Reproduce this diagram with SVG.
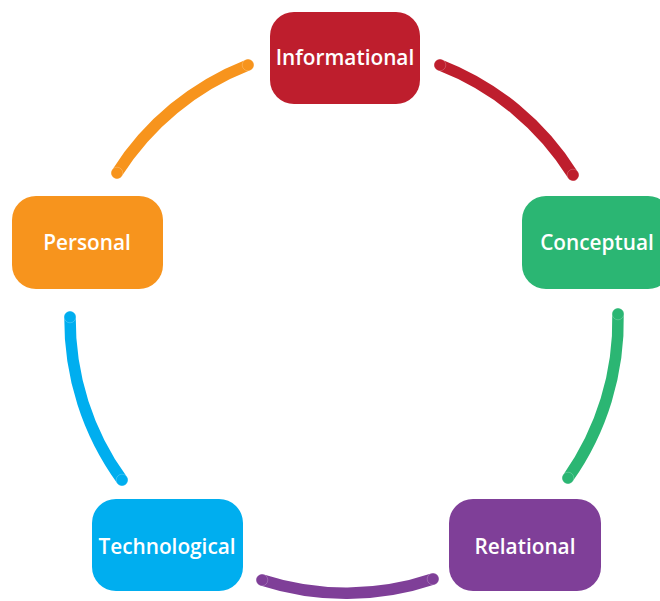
<svg xmlns="http://www.w3.org/2000/svg" width="660" height="601" viewBox="0 0 660 601">
<style>
.node text{font-family:"Open Sans","Noto Sans","Liberation Sans",sans-serif;font-weight:600;font-size:20.8px;fill:#fff;text-anchor:middle;dominant-baseline:central}
.arc{fill:none;stroke-width:11.5;stroke-linecap:round}
.cap{stroke:#fff;stroke-opacity:0.35;stroke-width:0.6}
</style>
<rect width="660" height="601" fill="#fff"/>
<g id="connectors">
<path class="arc" stroke="#BE1E2D" d="M440,65 A273,273 0 0 1 573,175"/>
<circle class="cap" fill="#BE1E2D" cx="440" cy="65" r="5.8"/><circle class="cap" fill="#BE1E2D" cx="573" cy="175" r="5.8"/>
<path class="arc" stroke="#2BB673" d="M618,314 A273,273 0 0 1 568,478"/>
<circle class="cap" fill="#2BB673" cx="618" cy="314" r="5.8"/><circle class="cap" fill="#2BB673" cx="568" cy="478" r="5.8"/>
<path class="arc" stroke="#7F3F98" d="M433,579 A273,273 0 0 1 262,580"/>
<circle class="cap" fill="#7F3F98" cx="433" cy="579" r="5.8"/><circle class="cap" fill="#7F3F98" cx="262" cy="580" r="5.8"/>
<path class="arc" stroke="#00AEEF" d="M122,480 A273,273 0 0 1 70,317"/>
<circle class="cap" fill="#00AEEF" cx="122" cy="480" r="5.8"/><circle class="cap" fill="#00AEEF" cx="70" cy="317" r="5.8"/>
<path class="arc" stroke="#F7941D" d="M117,173 A273,273 0 0 1 248,65"/>
<circle class="cap" fill="#F7941D" cx="117" cy="173" r="5.8"/><circle class="cap" fill="#F7941D" cx="248" cy="65" r="5.8"/>
</g>
<g id="informational" class="node"><rect x="270" y="12" width="150" height="92" rx="24" fill="#BE1E2D"/><text x="345" y="57">Informational</text></g>
<g id="conceptual" class="node"><rect x="522" y="196" width="150" height="93" rx="24" fill="#2BB673"/><text x="597" y="242">Conceptual</text></g>
<g id="relational" class="node"><rect x="449" y="499" width="152" height="92" rx="24" fill="#7F3F98"/><text x="525" y="546">Relational</text></g>
<g id="technological" class="node"><rect x="92" y="499" width="151" height="92" rx="24" fill="#00AEEF"/><text x="167" y="546">Technological</text></g>
<g id="personal" class="node"><rect x="12" y="196" width="151" height="93" rx="24" fill="#F7941D"/><text x="87" y="242">Personal</text></g>
</svg>
